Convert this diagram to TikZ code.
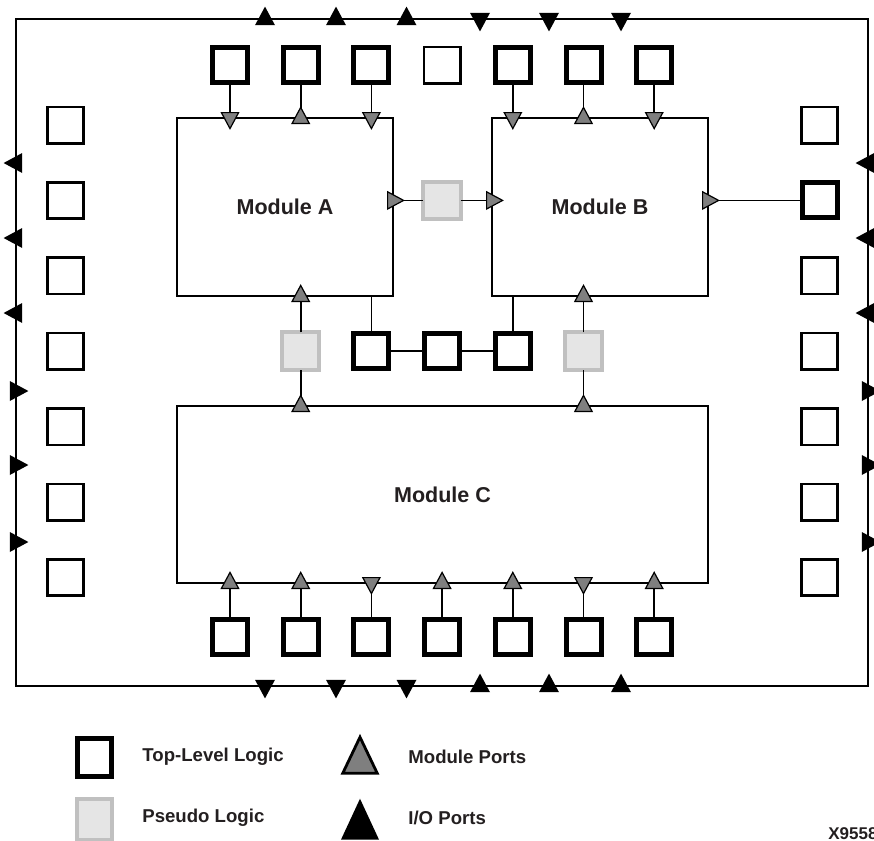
\documentclass[tikz,border=0pt]{standalone}
\usepackage{fontspec}
\setmainfont{Liberation Sans}
\usepackage{tikz}
\usetikzlibrary{calc}
\definecolor{portgray}{HTML}{7F7F7F}
\definecolor{pseudofill}{HTML}{E5E5E5}
\definecolor{pseudoedge}{HTML}{C0C0C0}
\definecolor{inktext}{HTML}{231F20}
\tikzset{
  chip/.style={draw=black, line width=1.3pt},
  wire/.style={draw=black, line width=0.8pt},
  toplogic/.style={draw=black, line width=2.5pt, fill=white, minimum size=17.5pt,
    inner sep=0pt, outer sep=0pt},
  spare/.style={draw=black, line width=1.3pt, fill=white, minimum size=18.2pt,
    inner sep=0pt, outer sep=0pt},
  pseudo/.style={draw=pseudoedge, line width=2pt, fill=pseudofill, minimum size=18.75pt,
    inner sep=0pt, outer sep=0pt},
  module/.style={draw=black, line width=1.4pt, fill=white, inner sep=0pt, outer sep=0pt,
    text=inktext, font=\bfseries\fontsize{10.75}{12}\selectfont},
  legendtext/.style={anchor=west, inner sep=0pt, text=inktext,
    font=\bfseries\fontsize{9.3}{11}\selectfont},
  modportfill/.style={fill=portgray, draw=black, line width=0.6pt},
  modport/.pic={\filldraw[modportfill] (0,5.3pt) -- (4.3pt,-2.7pt) -- (-4.3pt,-2.7pt) -- cycle;},
  ioport/.pic={\fill[black] (0,6.2pt) -- (5pt,-3.1pt) -- (-5pt,-3.1pt) -- cycle;}
}

\begin{document}
\begin{tikzpicture}[x=0.5pt, y=-0.5pt]
    \useasboundingbox (0,0) rectangle (874,841);
    % device outline
    \draw[chip] (16,19) rectangle (868,686);

    % modules
    \node[module, minimum width=108pt, minimum height=89pt] (ma) at (285,207) {Module A};
    \node[module, minimum width=108pt, minimum height=89pt] (mb) at (600,207) {Module B};
    \node[module, minimum width=265.5pt, minimum height=88.5pt] (mc) at (442.5,494.5) {Module C};

    % top-level logic rows
    \foreach \i/\x in {1/230,2/300.7,3/371.4,5/512.8,6/583.5,7/654.2}
        \node[toplogic] (t\i) at (\x,65) {};
    \node[spare] (t4) at (442.1,65) {};
    \foreach \i/\x in {1/230,2/300.7,3/371.4,4/442.1,5/512.8,6/583.5,7/654.2}
        \node[toplogic] (b\i) at (\x,637) {};
    \foreach \i/\y in {1/125,2/200.4,3/275.8,4/351.2,5/426.6,6/502,7/577.4}
        \node[spare] (l\i) at (65.5,\y) {};
    \foreach \i/\y in {1/125,3/275.8,4/351.2,5/426.6,6/502,7/577.4}
        \node[spare] (r\i) at (819.5,\y) {};
    \node[toplogic] (r2) at (819.5,200.4) {};

    % middle row
    \node[pseudo] (pa) at (442.1,200.4) {};
    \node[pseudo] (pl) at (300.7,351.2) {};
    \node[toplogic] (m1) at (371.4,351.2) {};
    \node[toplogic] (m2) at (442.1,351.2) {};
    \node[toplogic] (m3) at (512.8,351.2) {};
    \node[pseudo] (pr) at (583.5,351.2) {};

    % wires
    \foreach \c in {t1,t2,t3}
        \draw[wire] (\c) -- (\c |- ma.north);
    \foreach \c in {t5,t6,t7}
        \draw[wire] (\c) -- (\c |- mb.north);
    \foreach \c in {b1,b2,b3,b4,b5,b6,b7}
        \draw[wire] (\c) -- (\c |- mc.south);
    \draw[wire] (pa -| ma.east) -- (pa) -- (pa -| mb.west);
    \draw[wire] (r2 -| mb.east) -- (r2);
    \draw[wire] (pl |- mc.north) -- (pl) -- (pl |- ma.south);
    \draw[wire] (pr |- mc.north) -- (pr) -- (pr |- mb.south);
    \draw[wire] (m1) -- (m1 |- ma.south);
    \draw[wire] (m3) -- (m3 |- mb.south);
    \draw[wire] (m1) -- (m2) -- (m3);

    % module ports
    \foreach \c/\r in {t1/180,t2/0,t3/180}
        \pic[rotate=\r] at (\c |- ma.north) {modport};
    \foreach \c/\r in {t5/180,t6/0,t7/180}
        \pic[rotate=\r] at (\c |- mb.north) {modport};
    \foreach \c/\r in {b1/0,b2/0,b3/180,b4/0,b5/0,b6/180,b7/0}
        \pic[rotate=\r] at (\c |- mc.south) {modport};
    \pic at (pl |- ma.south) {modport};
    \pic at (pl |- mc.north) {modport};
    \pic at (pr |- mb.south) {modport};
    \pic at (pr |- mc.north) {modport};
    \pic[rotate=-90] at (pa -| ma.east) {modport};
    \pic[rotate=-90] at (pa -| mb.west) {modport};
    \pic[rotate=-90] at (r2 -| mb.east) {modport};

    % I/O ports
    \foreach \x/\r in {265/0,336/0,406.5/0,480/180,549/180,621/180}
        \pic[rotate=\r] at (\x,19) {ioport};
    \foreach \x/\r in {265/180,336/180,406.5/180,480/0,549/0,621/0}
        \pic[rotate=\r] at (\x,686) {ioport};
    \foreach \y/\r in {163/90,238/90,313/90,391/-90,465/-90,542/-90} {
        \pic[rotate=\r] at (16,\y) {ioport};
        \pic[rotate=\r] at (868,\y) {ioport};
    }

    % legend
    \node[toplogic, minimum width=17pt, minimum height=19pt] (keytop) at (94,757.5) {};
    \node[legendtext] (keytoptext) at (142,757) {Top-Level Logic};
    \node[pseudo, minimum width=17.5pt, minimum height=20.5pt] (keypseudo) at (94,819) {};
    \node[legendtext] (keypseudotext) at (142,818) {Pseudo Logic};
    \pic[xscale=2, yscale=2.25, modportfill/.append style={line width=1.4pt}] at (360,761) {modport};
    \node[legendtext] (keymodtext) at (408,757) {Module Ports};
    \pic[xscale=1.9, yscale=2.2] at (360,826) {ioport};
    \node[legendtext] (keyiotext) at (408,818) {I/O Ports};

    \node[anchor=west, inner sep=0pt, text=inktext, font=\bfseries\fontsize{8.5}{10}\selectfont] (fignum) at (828,834) {X9558};
\end{tikzpicture}
\end{document}
